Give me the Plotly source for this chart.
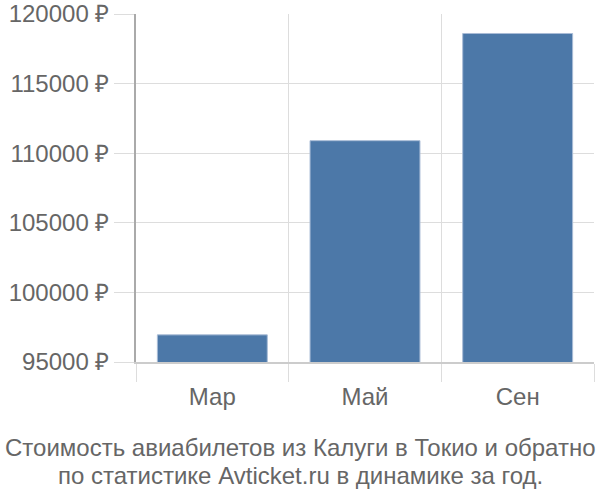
import plotly.graph_objects as go

months = ["Мар", "Май", "Сен"]
prices = [96950, 110900, 118600]
y_ticks = [95000, 100000, 105000, 110000, 115000, 120000]
title_lines = ["Стоимость авиабилетов из Калуги в Токио и обратно",
               "по статистике Avticket.ru в динамике за год."]

fig = go.Figure(go.Bar(
    x=months, y=prices,
    width=0.72,
    marker=dict(color="#4c78a8", line=dict(color="#a9bcd6", width=1)),
))

fig.update_layout(
    width=600, height=500,
    margin=dict(l=136, r=6, t=14, b=138, autoexpand=False),
    paper_bgcolor="white", plot_bgcolor="white",
    font=dict(family="Liberation Sans, Arial, sans-serif", size=24, color="#666"),
    showlegend=False,
)

fig.update_xaxes(
    range=[-0.5, 2.5],
    tickson="boundaries",
    ticks="outside", ticklen=18, tickcolor="#ddd", tickwidth=1,
    showgrid=True, gridcolor="#ddd", gridwidth=1,
    showline=True, linecolor="#ccc", linewidth=1.5,
    tickfont=dict(size=24, color="#666"),
    ticklabelstandoff=12,
    automargin=False,
)
fig.update_yaxes(
    range=[95000, 120000],
    tickvals=y_ticks,
    ticktext=[f"{v} ₽" for v in y_ticks],
    ticks="outside", ticklen=20, tickcolor="#ddd", tickwidth=1,
    showgrid=True, gridcolor="#ddd", gridwidth=1,
    showline=True, linecolor="#aaa", linewidth=1.5,
    zeroline=False,
    tickfont=dict(size=24, color="#666"),
    ticklabeloverflow="allow",
    automargin=False,
)

# подпись снизу, две строки, по центру всей картинки
cx = (300 - 136) / 458
for line, yy in zip(title_lines, [-0.247, -0.325]):
    fig.add_annotation(
        text=line, xref="paper", yref="paper", x=cx, y=yy,
        xanchor="center", yanchor="middle", showarrow=False,
        font=dict(size=24, color="#666"),
    )

# убираем стандартный отступ body, чтобы фигура встала в угол окна
fig.write_html("out.html", config={"displayModeBar": False},
               post_script="document.body.style.margin='0';")
